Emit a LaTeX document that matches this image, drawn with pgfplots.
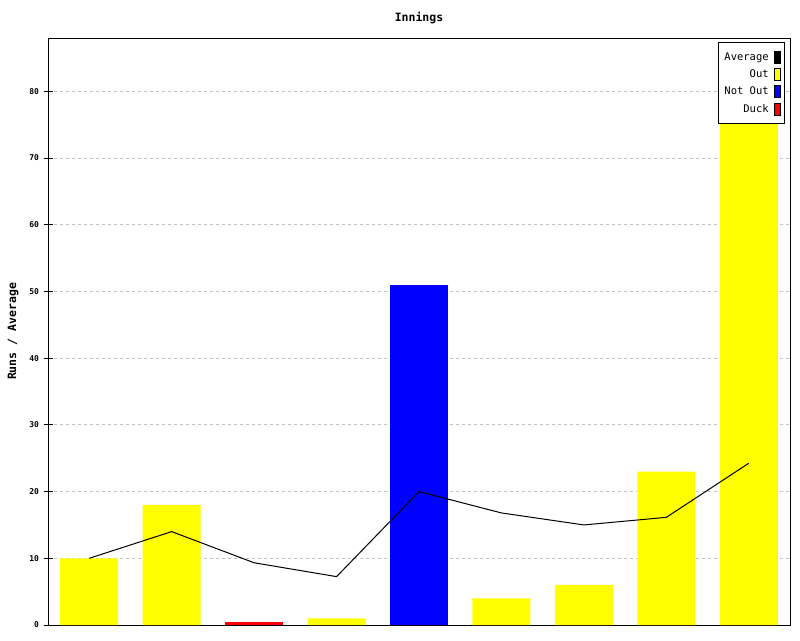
\documentclass[border=0pt]{standalone}
\usepackage{pgfplots}
\pgfplotsset{compat=1.18}
\usepackage{fontspec}
\setmonofont{DejaVu Sans Mono}

\definecolor{outc}{RGB}{255,255,0}
\definecolor{notoutc}{RGB}{0,0,255}
\definecolor{duckc}{RGB}{255,0,0}
\definecolor{gridc}{RGB}{195,195,195}

% legend box: small tall colour swatch
\pgfplotsset{
  swatch/.style={legend image code/.code={
    \draw[fill=#1,draw=black,line width=0.8pt] (0pt,-6pt) rectangle (6pt,6pt);}}
}

\begin{document}
\begin{tikzpicture}
\path[use as bounding box] (0,0) rectangle (800pt,640pt);
\begin{axis}[
  at={(48pt,15pt)}, anchor=south west,
  scale only axis, width=742pt, height=587pt,
  xmin=0.5, xmax=9.5, ymin=0, ymax=88,
  xtick=\empty,
  ytick={0,10,...,80}, ytick pos=left,
  tick align=center, major tick length=9pt,
  tick style={black, line width=1pt},
  axis line style={line width=1pt},
  ymajorgrids,
  grid style={gridc, line width=1pt, dash pattern=on 2.5pt off 3.5pt},
  /pgf/number format/assume math mode=true,
  yticklabel style={font=\ttfamily\bfseries\fontsize{8}{9}\selectfont, xshift=-1pt},
  title={Innings},
  title style={font=\ttfamily\bfseries\fontsize{11.5}{12}\selectfont,
    at={(axis description cs:0.5,1)}, anchor=center, yshift=14pt},
  ylabel={Runs / Average},
  ylabel style={font=\ttfamily\bfseries\fontsize{11.5}{12}\selectfont,
    at={(axis description cs:0,0.5)}, anchor=center, yshift=35pt},
  legend cell align=right,
  legend plot pos=right,
  legend style={at={(axis description cs:1,1)}, anchor=north east,
    xshift=-5pt, yshift=-4pt, draw=black, line width=1pt,
    font=\ttfamily\fontsize{10.5}{11}\selectfont,
    row sep=4pt, inner xsep=4pt, inner ysep=8pt,
    /tikz/every odd column/.append style={column sep=3pt}},
]
\addlegendimage{swatch=black}\addlegendentry{Average}
\addlegendimage{swatch=outc}\addlegendentry{Out}
\addlegendimage{swatch=notoutc}\addlegendentry{Not Out}
\addlegendimage{swatch=duckc}\addlegendentry{Duck}

% Out
\addplot[ybar, bar width=58pt, bar shift=0pt, fill=outc, draw=none, forget plot]
  coordinates {(1,10) (2,18) (4,1) (6,4) (7,6) (8,23) (9,81)};
% Not out
\addplot[ybar, bar width=58pt, bar shift=0pt, fill=notoutc, draw=none, forget plot]
  coordinates {(5,51)};
% Duck (drawn as a thin sliver)
\addplot[ybar, bar width=58pt, bar shift=0pt, fill=duckc, draw=none, forget plot]
  coordinates {(3,0.45)};
% running average
\addplot[black, line width=1pt, mark=none, forget plot]
  coordinates {(1,10) (2,14) (3,9.33) (4,7.25) (5,20) (6,16.8) (7,15) (8,16.14) (9,24.25)};
\end{axis}
\end{tikzpicture}
\end{document}
